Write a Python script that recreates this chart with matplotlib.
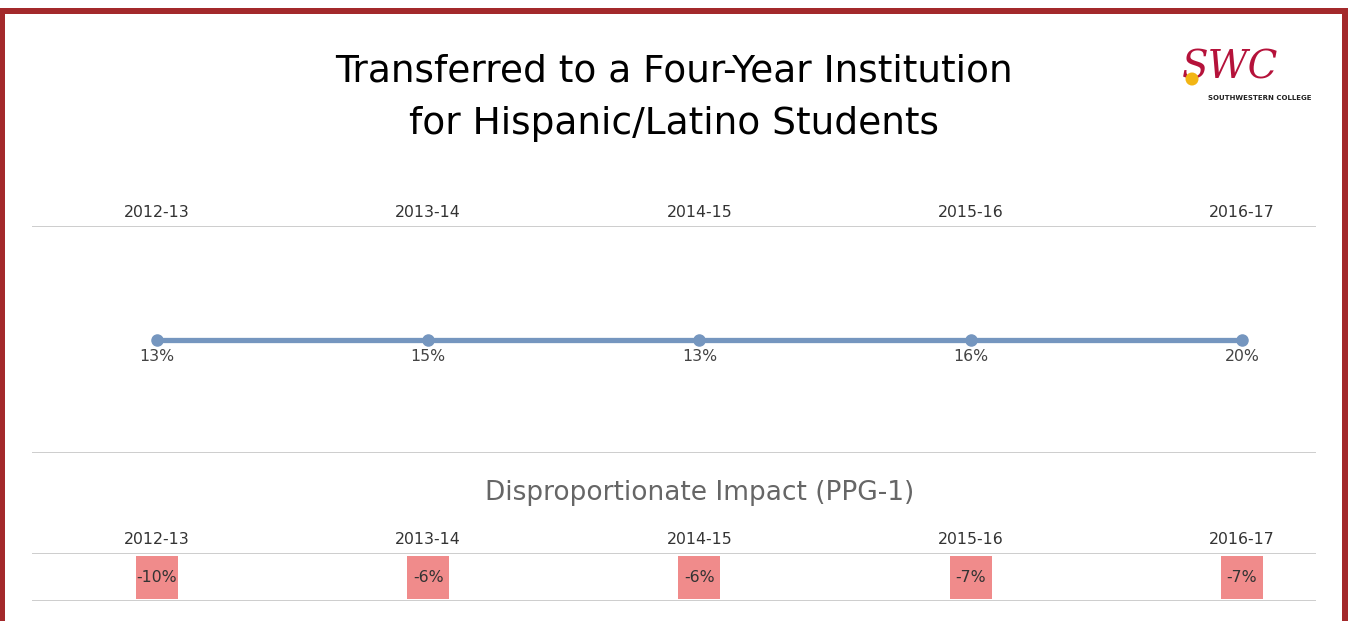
import matplotlib
matplotlib.use("Agg")
import matplotlib.pyplot as plt
from matplotlib.patches import Rectangle, Circle
import numpy as np

# data
years = ["2012-13", "2013-14", "2014-15", "2015-16", "2016-17"]
transfer_rate = [13, 15, 13, 16, 20]
di_ppg = [-10, -6, -6, -7, -7]

W, H = 1351, 621
BORDER = "#a3292b"
LINE = "#7596bf"
BOX = "#f08b8b"
GRID = "#c9c9c9"

fig = plt.figure(figsize=(W / 100, H / 100), dpi=100)
fig.patch.set_facecolor("white")


def px_axes(x0, y0, x1, y1):
    # pixel box (top-left origin) -> figure axes
    return fig.add_axes([x0 / W, 1 - y1 / H, (x1 - x0) / W, (y1 - y0) / H])


# border frame
bg = px_axes(0, 0, W, H)
bg.set_xlim(0, W)
bg.set_ylim(H, 0)
bg.axis("off")
bg.add_patch(Rectangle((0, 8), W - 3, 6, color=BORDER, lw=0))
bg.add_patch(Rectangle((0, 8), 5, H, color=BORDER, lw=0))
bg.add_patch(Rectangle((1342, 8), 6, H, color=BORDER, lw=0))

# title
bg.text(674, 72, "Transferred to a Four-Year Institution", ha="center", va="center",
        fontsize=27, color="black")
bg.text(674, 124, "for Hispanic/Latino Students", ha="center", va="center",
        fontsize=27, color="black")

# logo
bg.text(1230, 68, "SWC", ha="center", va="center", fontsize=28, color="#b5123a",
        family="DejaVu Serif", style="italic")
bg.add_patch(Circle((1192, 79), 6.5, color="#f2b514", lw=0, zorder=5))
bg.text(1260, 98, "SOUTHWESTERN COLLEGE", ha="center", va="center", fontsize=5,
        color="#222222", weight="bold")

x = np.arange(len(years))
step = (1242 - 157) / 4
xl = (-(157 - 32) / step, 4 + (1316 - 1242) / step)

# top panel: transfer rate
ax = px_axes(32, 226, 1316, 453)
ax.set_xlim(*xl)
ax.set_ylim(-1, 1)
ax.axis("off")
ax.axhline(1, color=GRID, lw=1.3)
ax.axhline(-1, color=GRID, lw=1.3)
ax.plot(x, np.zeros(len(x)), color=LINE, lw=3.8, marker="o", ms=8, solid_capstyle="round")
for xi, yr, v in zip(x, years, transfer_rate):
    ax.text(xi, 1.05, yr, ha="center", va="bottom", fontsize=11.3, color="#333333")
    ax.text(xi, -0.08, f"{v}%", ha="center", va="top", fontsize=11.3, color="#444444")

bg.text(700, 493, "Disproportionate Impact (PPG-1)", ha="center", va="center",
        fontsize=19, color="#666666")

# bottom panel: disproportionate impact
ax2 = px_axes(32, 553, 1316, 601)
ax2.set_xlim(*xl)
ax2.set_ylim(-1, 1)
ax2.axis("off")
ax2.axhline(1, color=GRID, lw=1.3)
ax2.axhline(-1, color=GRID, lw=1.3)
bw = 42 / step
ax2.bar(x, 1.8, bottom=-0.92, width=bw, color=BOX)
for xi, yr, v in zip(x, years, di_ppg):
    ax2.text(xi, 1.25, yr, ha="center", va="bottom", fontsize=11.3, color="#333333")
    ax2.text(xi, 0, f"{v}%", ha="center", va="center", fontsize=11.3, color="#333333")

fig.savefig("out.png", dpi=100)
